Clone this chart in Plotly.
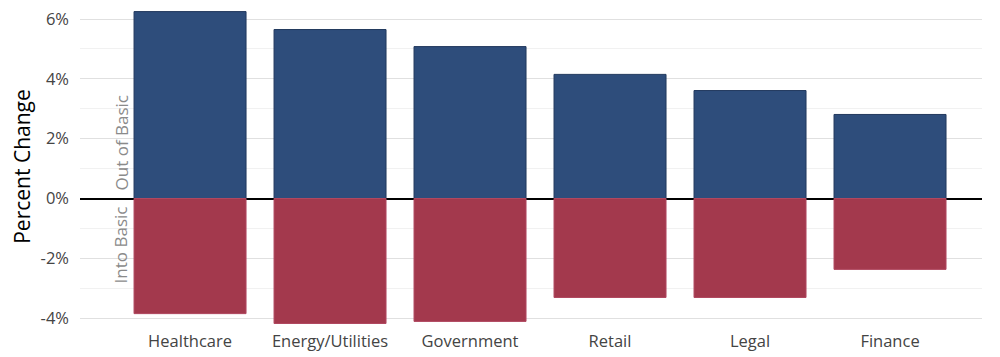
import plotly.graph_objects as go

categories = ["Healthcare", "Energy/Utilities", "Government", "Retail", "Legal", "Finance"]
out_of_basic = [6.25, 5.65, 5.08, 4.15, 3.61, 2.81]
into_basic = [-3.85, -4.18, -4.11, -3.31, -3.31, -2.37]
y_ticks = [-4, -2, 0, 2, 4, 6]
y_tick_labels = ["-4%", "-2%", "0%", "2%", "4%", "6%"]

FONT = "Open Sans"

fig = go.Figure()
fig.add_trace(go.Bar(x=categories, y=out_of_basic, name="Out of Basic",
                     marker=dict(color="#2E4D7B", line=dict(color="#22395e", width=1)),
                     width=0.8))
fig.add_trace(go.Bar(x=categories, y=into_basic, name="Into Basic",
                     marker=dict(color="#A3394D", line=dict(color="#b04860", width=1)),
                     width=0.8))

fig.add_annotation(x=-0.49, y=0.2, xref="x", yref="y", text="Out of Basic", textangle=-90,
                   showarrow=False, xanchor="center", yanchor="bottom",
                   font=dict(family=FONT, size=17, color="#8a8a8a"))
fig.add_annotation(x=-0.49, y=-0.2, xref="x", yref="y", text="Into Basic", textangle=-90,
                   showarrow=False, xanchor="center", yanchor="top",
                   font=dict(family=FONT, size=17, color="#8a8a8a"))

fig.update_layout(
    width=992, height=349,
    barmode="relative",
    showlegend=False,
    plot_bgcolor="white", paper_bgcolor="white",
    margin=dict(l=72, r=18, t=0, b=32),
    font=dict(family=FONT, size=16.5, color="#444"),
    xaxis=dict(range=[-0.786, 5.657], showgrid=False, showline=False, ticks="",
               ticklabelstandoff=4,
               tickfont=dict(family=FONT, size=16.5, color="#444")),
    yaxis=dict(range=[-4.23, 6.37], tickvals=y_ticks, ticktext=y_tick_labels,
               showgrid=True, gridcolor="#e0e0e0", gridwidth=1.3,
               minor=dict(dtick=1, showgrid=True, gridcolor="#f1f1f1", gridwidth=1),
               zeroline=True, zerolinecolor="black", zerolinewidth=2,
               ticklabelstandoff=10, ticklabeloverflow="allow",
               tickfont=dict(family=FONT, size=16.5, color="#444"),
               title=dict(text="Percent Change", font=dict(family=FONT, size=21, color="black"),
                          standoff=12)),
)

fig.write_html("out.html")
